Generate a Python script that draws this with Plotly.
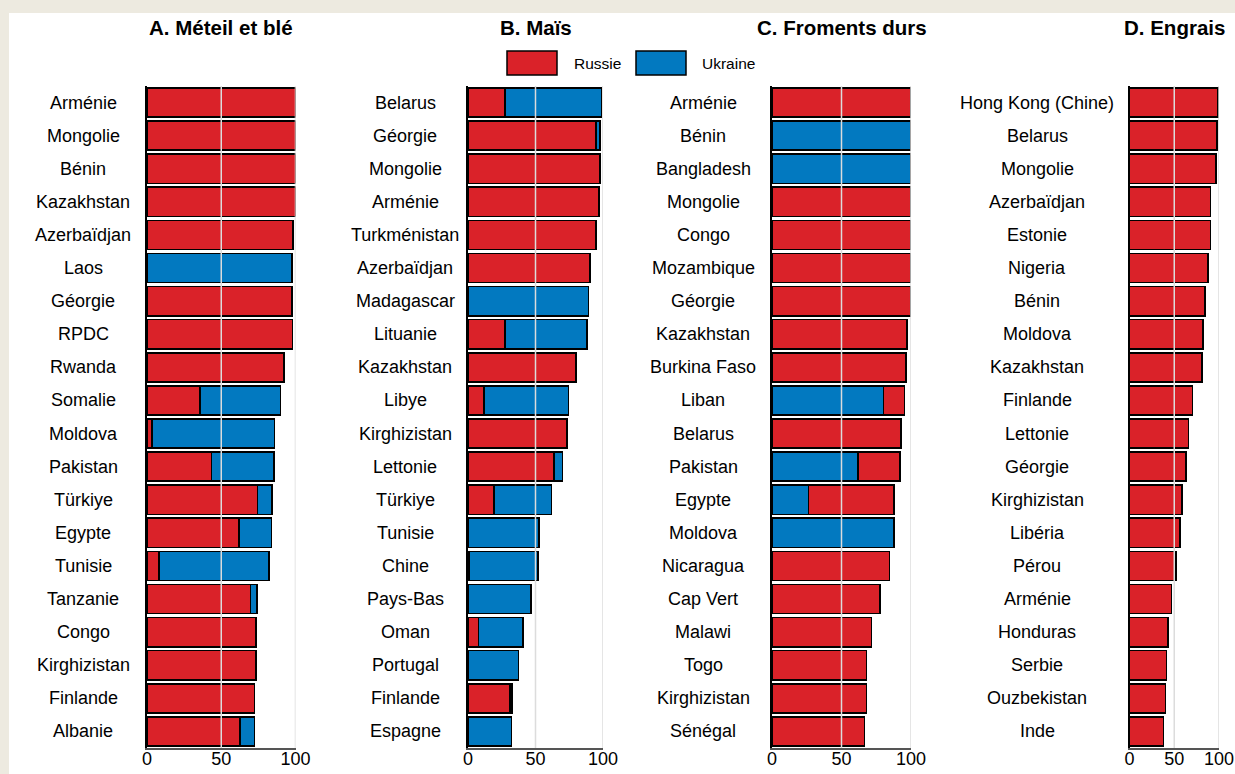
import plotly.graph_objects as go

# ---------------- data ----------------
series_names = ["Russie", "Ukraine"]

A_title = "A. Méteil et blé"
A_countries = ["Arménie", "Mongolie", "Bénin", "Kazakhstan", "Azerbaïdjan", "Laos", "Géorgie", "RPDC",
               "Rwanda", "Somalie", "Moldova", "Pakistan", "Türkiye", "Egypte", "Tunisie", "Tanzanie",
               "Congo", "Kirghizistan", "Finlande", "Albanie"]
A_russie = [100, 100, 100, 100, 98.2, 0, 97.5, 98, 92.4, 35.8, 3.2, 43.5, 74.5, 62, 7.9, 69.8,
            73.3, 73.2, 72.3, 62.8]
A_ukraine = [0, 0, 0, 0, 0, 97.8, 0, 0, 0, 54.1, 82.6, 41.9, 9.7, 21.8, 74.3, 4.2,
             0, 0, 0, 9.5]

B_title = "B. Maïs"
B_countries = ["Belarus", "Géorgie", "Mongolie", "Arménie", "Turkménistan", "Azerbaïdjan", "Madagascar",
               "Lituanie", "Kazakhstan", "Libye", "Kirghizistan", "Lettonie", "Türkiye", "Tunisie", "Chine",
               "Pays-Bas", "Oman", "Portugal", "Finlande", "Espagne"]
B_russie = [27.3, 94.6, 97.8, 97, 95, 90.2, 0, 27.3, 79.8, 11.8, 73.4, 63.6, 19.2, 0, 0.7,
            0, 7.9, 0, 31, 0]
B_ukraine = [71.5, 3, 0, 0, 0, 0, 89.4, 60.9, 0, 62.6, 0, 6.4, 42.6, 52.7, 51.3,
             46.8, 33, 37.5, 1.5, 32.3]

C_title = "C. Froments durs"
C_countries = ["Arménie", "Bénin", "Bangladesh", "Mongolie", "Congo", "Mozambique", "Géorgie", "Kazakhstan",
               "Burkina Faso", "Liban", "Belarus", "Pakistan", "Egypte", "Moldova", "Nicaragua", "Cap Vert",
               "Malawi", "Togo", "Kirghizistan", "Sénégal"]
C_ukraine = [0, 100, 100, 0, 0, 0, 0, 0, 0, 80.1, 0, 62, 26.2, 87.7, 0, 0, 0, 0, 0, 0]
C_russie = [100, 0, 0, 100, 100, 100, 99.5, 97, 96.3, 15.2, 92.7, 30.2, 61.7, 0, 84.5, 77.9,
            71.5, 68.1, 67.9, 66.4]

D_title = "D. Engrais"
D_countries = ["Hong Kong (Chine)", "Belarus", "Mongolie", "Azerbaïdjan", "Estonie", "Nigeria", "Bénin",
               "Moldova", "Kazakhstan", "Finlande", "Lettonie", "Géorgie", "Kirghizistan", "Libéria", "Pérou",
               "Arménie", "Honduras", "Serbie", "Ouzbekistan", "Inde"]
D_russie = [99.2, 97.7, 96.6, 90.6, 90.6, 88, 84.6, 82.4, 80.9, 70.5, 66, 63.2, 58.8, 56.5, 52,
            47, 43, 41.5, 40, 38]
D_ukraine = [0] * 20

x_ticks = [0, 50, 100]
grid_vals = [50, 100]

# ---------------- styling ----------------
W, H = 1235, 774
RED = "#DA2229"
BLUE = "#0279C0"
BEIGE = "#EDEAE0"
FONT = "Liberation Sans, Arial, sans-serif"


def fx(p):
    return p / W


def fy(p):
    return 1 - p / H


# plot areas in pixels: (left, right), label center
panels = [
    (A_title, A_countries, [("Russie", A_russie, RED), ("Ukraine", A_ukraine, BLUE)], (147, 295.5), 83),
    (B_title, B_countries, [("Russie", B_russie, RED), ("Ukraine", B_ukraine, BLUE)], (468, 603), 405),
    (C_title, C_countries, [("Ukraine", C_ukraine, BLUE), ("Russie", C_russie, RED)], (772, 911), 703),
    (D_title, D_countries, [("Russie", D_russie, RED), ("Ukraine", D_ukraine, BLUE)], (1129.5, 1219), 1037),
]
PLOT_TOP, PLOT_BOTTOM = 86, 748

fig = go.Figure()
annotations = []
shapes = []
layout_axes = {}

# white card background
shapes.append(dict(type="rect", xref="paper", yref="paper", x0=fx(9), x1=1.0, y0=0.0, y1=fy(13),
                   fillcolor="white", line=dict(width=0), layer="below"))

for i, (title, countries, series, (left, right), label_cx) in enumerate(panels):
    n = "" if i == 0 else str(i + 1)
    xa, ya = "x" + n, "y" + n
    for name, vals, color in series:
        fig.add_trace(go.Bar(
            y=countries, x=[v if v else None for v in vals], orientation="h",
            name=name, marker=dict(color=color, line=dict(color="black", width=1.6)),
            xaxis=xa, yaxis=ya, showlegend=False,
            hovertemplate="%{y}: %{x}<extra>" + name + "</extra>",
        ))
    layout_axes["xaxis" + n] = dict(
        domain=[fx(left), fx(right)], anchor=ya, range=[0, 100], tickvals=x_ticks,
        showgrid=False, zeroline=False, showline=True, linecolor="#555555", linewidth=1.5,
        ticks="", ticklen=0, ticklabelstandoff=-6,
        tickfont=dict(size=18, color="black", family=FONT),
        fixedrange=True, automargin=False,
    )
    layout_axes["yaxis" + n] = dict(
        domain=[fy(PLOT_BOTTOM), fy(PLOT_TOP)], anchor=xa, autorange="reversed",
        showticklabels=False, showgrid=False, zeroline=False, showline=True,
        linecolor="black", linewidth=2.2, ticks="", fixedrange=True, automargin=False,
    )
    # grid lines drawn above the bars
    for g in grid_vals:
        shapes.append(dict(type="line", xref=xa, yref=ya + " domain", x0=g, x1=g, y0=0, y1=1,
                           line=dict(color="#dcdcdc", width=1.5), layer="above"))
    # panel title
    annotations.append(dict(text="<b>" + title + "</b>", xref=xa + " domain", yref="paper",
                            x=0.5, y=fy(28), xanchor="center", yanchor="middle", showarrow=False,
                            font=dict(size=20.5, color="black", family=FONT)))
    # centered category labels
    for c in countries:
        annotations.append(dict(text=c, xref="paper", yref=ya, x=fx(label_cx), y=c,
                                xanchor="center", yanchor="middle", showarrow=False,
                                font=dict(size=18, color="black", family=FONT)))

# legend (drawn manually to match large swatches)
legend_items = [("Russie", RED, 507, 572), ("Ukraine", BLUE, 636, 700)]
for name, color, bx, tx in legend_items:
    shapes.append(dict(type="rect", xref="paper", yref="paper", x0=fx(bx), x1=fx(bx + 50),
                       y0=fy(75), y1=fy(51), fillcolor=color, line=dict(color="black", width=1.5)))
    annotations.append(dict(text=name, xref="paper", yref="paper", x=fx(tx), y=fy(63),
                            xanchor="left", yanchor="middle", showarrow=False,
                            font=dict(size=15.5, color="black", family=FONT)))

fig.update_layout(
    width=W, height=H, autosize=False, margin=dict(l=0, r=0, t=0, b=0, pad=0),
    paper_bgcolor=BEIGE, plot_bgcolor="rgba(0,0,0,0)",
    barmode="stack", bargap=0.12, showlegend=False,
    font=dict(family=FONT, color="black"),
    shapes=shapes, annotations=annotations,
    **layout_axes,
)

fig.write_html(
    "out.html",
    config={"responsive": False, "displayModeBar": False},
    post_script="document.body.style.margin='0';document.body.style.padding='0';"
                "document.body.style.overflow='hidden';",
)
